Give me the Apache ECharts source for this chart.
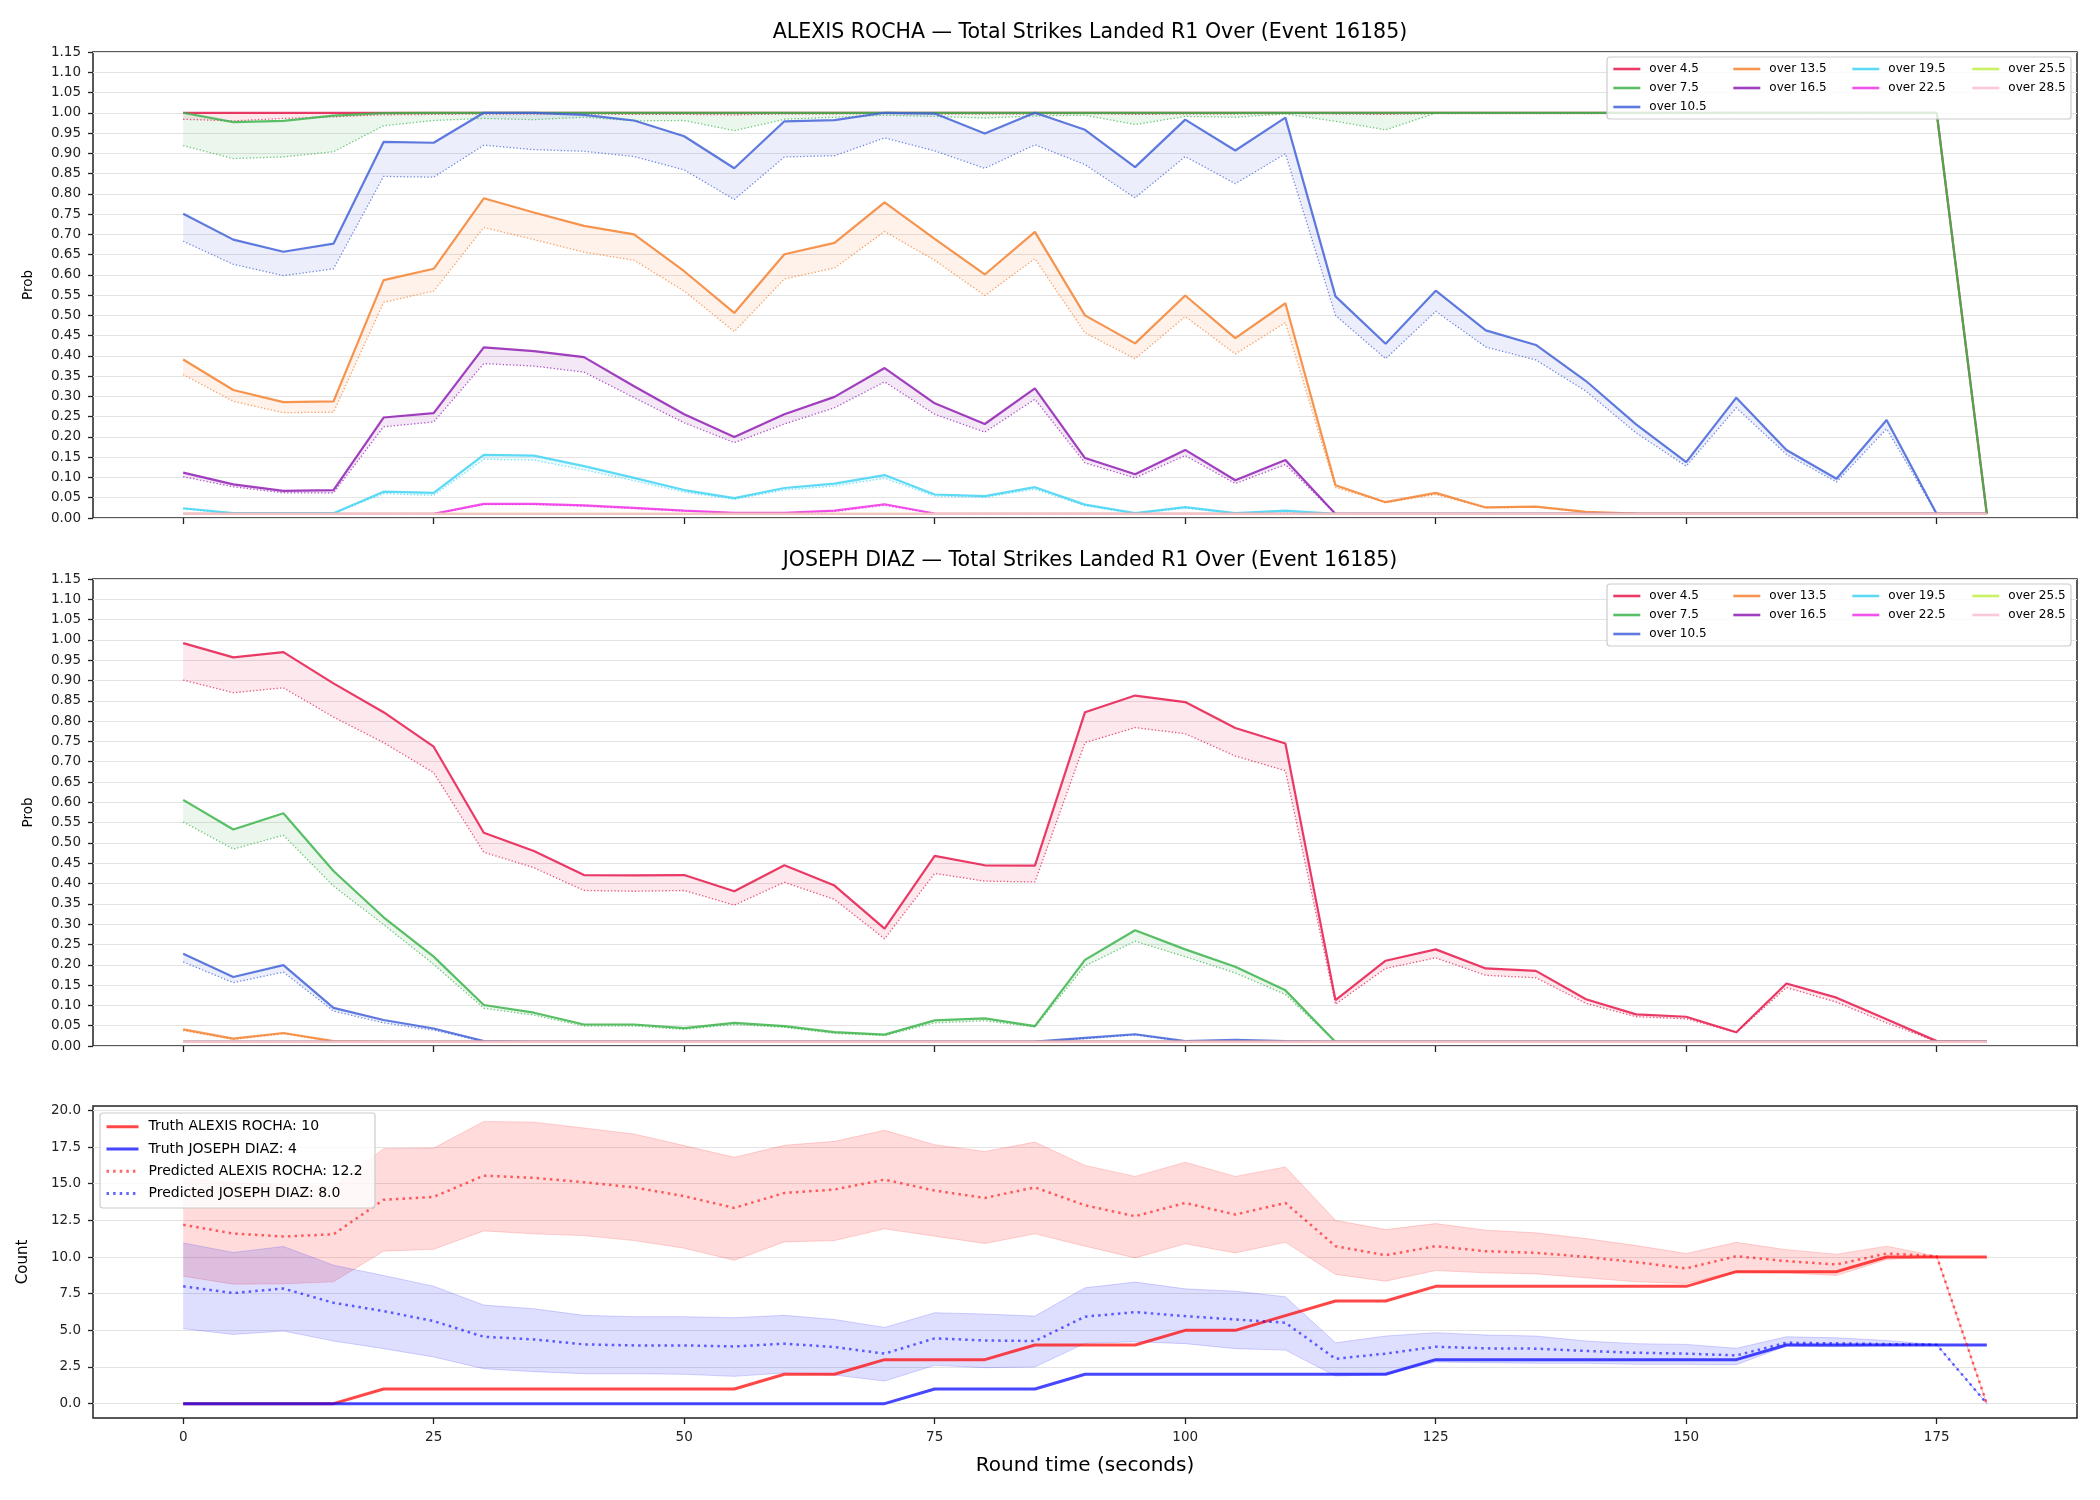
<!DOCTYPE html>
<html>
<head>
<meta charset="utf-8">
<script src="https://cdn.jsdelivr.net/npm/echarts@6/dist/echarts.min.js"></script>
<style>html,body{margin:0;padding:0;background:#fff}#main{width:2100px;height:1500px}</style>
</head>
<body>
<div id="main"></div>
<script>
// round time, seconds
var times = [0,5,10,15,20,25,30,35,40,45,50,55,60,65,70,75,80,85,90,95,100,105,110,115,120,125,130,135,140,145,150,155,160,165,170,175,180];
var xTicks = [0,25,50,75,100,125,150,175];
var countTicks = [0,2.5,5,7.5,10,12.5,15,17.5,20];
var thresholds = ['over 4.5','over 7.5','over 10.5','over 13.5','over 16.5','over 19.5','over 22.5','over 25.5','over 28.5'];
var palette = ['#e6194b','#3cb44b','#4363d8','#f58231','#911eb4','#42d4f4','#f032e6','#bfef45','#fabed4'];

var flat = [0.01,0.01,0.01,0.01,0.01,0.01,0.01,0.01,0.01,0.01,
  0.01,0.01,0.01,0.01,0.01,0.01,0.01,0.01,0.01,0.01,
  0.01,0.01,0.01,0.01,0.01,0.01,0.01,0.01,0.01,0.01,
  0.01,0.01,0.01,0.01,0.01,0.01,0.01];

// ALEXIS ROCHA: solid line (s) and dotted line (d) per threshold
var rocha45s = [1,1,1,1,1,1,1,1,1,1, 1,1,1,1,1,1,1,1,1,1, 1,1,1,1,1,1,1,1,1,1, 1,1,1,1,1,1,0.01];
var rocha45d = [0.984,0.980,0.986,0.990,0.995,0.996,0.997,0.997,0.997,0.996,
  0.996,0.995,0.997,0.997,0.998,0.997,0.997,0.997,0.998,0.996,
  0.997,0.997,0.998,0.997,0.996,0.998,0.998,0.998,0.998,0.998,
  0.998,0.998,0.998,0.998,0.998,0.998,0.01];
var rocha75s = [1,0.977,0.980,0.993,0.999,1,1,1,1,1, 1,1,1,1,1,1,1,1,1,1, 1,1,1,1,1,1,1,1,1,1, 1,1,1,1,1,1,0.01];
var rocha75d = [0.919,0.887,0.891,0.904,0.968,0.981,0.986,0.983,0.989,0.980,
  0.981,0.956,0.984,0.989,0.994,0.991,0.987,0.992,0.994,0.971,
  0.991,0.989,0.997,0.979,0.958,0.999,1,1,1,1,
  1,1,1,1,1,1,0.01];
var rocha105s = [0.751,0.687,0.657,0.677,0.928,0.926,1.0,1.0,0.995,0.981,
  0.942,0.863,0.979,0.982,1.0,0.998,0.949,1.0,0.958,0.866,
  0.983,0.907,0.988,0.547,0.430,0.561,0.463,0.427,0.338,0.231,
  0.138,0.297,0.168,0.097,0.242,0.01,0.01];
var rocha105d = [0.683,0.626,0.598,0.615,0.843,0.841,0.920,0.909,0.905,0.892,
  0.859,0.786,0.891,0.894,0.938,0.906,0.863,0.921,0.872,0.790,
  0.892,0.825,0.899,0.500,0.393,0.510,0.422,0.390,0.313,0.210,
  0.128,0.272,0.157,0.089,0.220,0.01,0.01];
var rocha135s = [0.391,0.316,0.286,0.288,0.587,0.615,0.789,0.754,0.721,0.700,
  0.609,0.506,0.651,0.679,0.779,0.689,0.601,0.706,0.500,0.431,
  0.549,0.444,0.530,0.081,0.039,0.062,0.026,0.028,0.015,0.011,
  0.01,0.01,0.01,0.01,0.01,0.01,0.01];
var rocha135d = [0.354,0.288,0.260,0.261,0.532,0.560,0.717,0.687,0.656,0.636,
  0.560,0.460,0.590,0.617,0.707,0.636,0.549,0.640,0.457,0.393,
  0.497,0.405,0.482,0.075,0.038,0.058,0.025,0.027,0.014,0.011,
  0.01,0.01,0.01,0.01,0.01,0.01,0.01];
var rocha165s = [0.112,0.083,0.067,0.069,0.248,0.259,0.421,0.412,0.397,0.325,
  0.256,0.200,0.256,0.299,0.370,0.283,0.232,0.320,0.148,0.108,
  0.168,0.093,0.143,0.01,0.01,0.01,0.01,0.01,0.01,0.01,
  0.01,0.01,0.01,0.01,0.01,0.01,0.01];
var rocha165d = [0.102,0.077,0.062,0.062,0.225,0.237,0.381,0.375,0.360,0.297,
  0.235,0.186,0.232,0.272,0.336,0.256,0.212,0.293,0.136,0.099,
  0.154,0.085,0.132,0.01,0.01,0.01,0.01,0.01,0.01,0.01,
  0.01,0.01,0.01,0.01,0.01,0.01,0.01];
var rocha195s = [0.024,0.012,0.012,0.012,0.065,0.062,0.156,0.154,0.128,0.099,
  0.069,0.049,0.074,0.085,0.106,0.058,0.054,0.076,0.033,0.012,
  0.027,0.012,0.018,0.01,0.01,0.01,0.01,0.01,0.01,0.01,
  0.01,0.01,0.01,0.01,0.01,0.01,0.01];
var rocha195d = [0.022,0.011,0.011,0.011,0.060,0.056,0.145,0.143,0.119,0.092,
  0.064,0.046,0.069,0.079,0.098,0.054,0.051,0.071,0.030,0.011,
  0.024,0.011,0.015,0.01,0.01,0.01,0.01,0.01,0.01,0.01,
  0.01,0.01,0.01,0.01,0.01,0.01,0.01];
var rocha225s = [0.01,0.01,0.01,0.01,0.01,0.01,0.035,0.035,0.031,0.025,
  0.018,0.013,0.013,0.018,0.034,0.011,0.01,0.01,0.01,0.01,
  0.01,0.01,0.01,0.01,0.01,0.01,0.01,0.01,0.01,0.01,
  0.01,0.01,0.01,0.01,0.01,0.01,0.01];
var rocha225d = [0.01,0.01,0.01,0.01,0.01,0.01,0.033,0.033,0.029,0.023,
  0.017,0.012,0.012,0.016,0.031,0.010,0.01,0.01,0.01,0.01,
  0.01,0.01,0.01,0.01,0.01,0.01,0.01,0.01,0.01,0.01,
  0.01,0.01,0.01,0.01,0.01,0.01,0.01];

// JOSEPH DIAZ
var diaz45s = [0.992,0.957,0.970,0.893,0.822,0.737,0.525,0.480,0.421,0.420,
  0.421,0.381,0.445,0.395,0.289,0.468,0.445,0.444,0.822,0.863,
  0.847,0.783,0.745,0.113,0.210,0.238,0.191,0.185,0.115,0.078,
  0.072,0.034,0.154,0.119,0.066,0.012,0.01];
var diaz45d = [0.901,0.870,0.882,0.810,0.747,0.673,0.477,0.439,0.383,0.381,
  0.383,0.347,0.403,0.361,0.264,0.425,0.406,0.404,0.747,0.784,
  0.769,0.714,0.678,0.103,0.191,0.217,0.174,0.168,0.105,0.072,
  0.067,0.033,0.144,0.108,0.057,0.011,0.01];
var diaz75s = [0.606,0.533,0.573,0.431,0.317,0.220,0.101,0.082,0.053,0.053,
  0.044,0.057,0.049,0.034,0.028,0.063,0.068,0.049,0.212,0.285,
  0.238,0.195,0.137,0.01,0.01,0.01,0.01,0.01,0.01,0.01,
  0.01,0.01,0.01,0.01,0.01,0.01,0.01];
var diaz75d = [0.552,0.485,0.519,0.394,0.299,0.201,0.093,0.076,0.049,0.049,
  0.041,0.053,0.046,0.031,0.026,0.057,0.062,0.047,0.197,0.258,
  0.220,0.180,0.127,0.01,0.01,0.01,0.01,0.01,0.01,0.01,
  0.01,0.01,0.01,0.01,0.01,0.01,0.01];
var diaz105s = [0.227,0.170,0.199,0.094,0.064,0.043,0.012,0.01,0.01,0.01,
  0.01,0.01,0.01,0.01,0.01,0.01,0.01,0.011,0.020,0.029,
  0.012,0.015,0.012,0.01,0.01,0.01,0.01,0.01,0.01,0.01,
  0.01,0.01,0.01,0.01,0.01,0.01,0.01];
var diaz105d = [0.207,0.156,0.182,0.086,0.057,0.039,0.011,0.01,0.01,0.01,
  0.01,0.01,0.01,0.01,0.01,0.01,0.01,0.010,0.018,0.027,
  0.011,0.013,0.011,0.01,0.01,0.01,0.01,0.01,0.01,0.01,
  0.01,0.01,0.01,0.01,0.01,0.01,0.01];
var diaz135s = [0.041,0.018,0.032,0.012,0.01,0.01,0.01,0.01,0.01,0.01,
  0.01,0.01,0.01,0.01,0.01,0.01,0.01,0.01,0.01,0.01,
  0.01,0.01,0.01,0.01,0.01,0.01,0.01,0.01,0.01,0.01,
  0.01,0.01,0.01,0.01,0.01,0.01,0.01];
var diaz135d = [0.038,0.016,0.030,0.011,0.01,0.01,0.01,0.01,0.01,0.01,
  0.01,0.01,0.01,0.01,0.01,0.01,0.01,0.01,0.01,0.01,
  0.01,0.01,0.01,0.01,0.01,0.01,0.01,0.01,0.01,0.01,
  0.01,0.01,0.01,0.01,0.01,0.01,0.01];

// strike counts
var truthRocha = [0,0,0,0,1,1,1,1,1,1,1,1,2,2,3,3,3,4,4,4,5,5,6,7,7,8,8,8,8,8,8,9,9,9,10,10,10];
var truthDiaz = [0,0,0,0,0,0,0,0,0,0,0,0,0,0,0,1,1,1,2,2,2,2,2,2,2,3,3,3,3,3,3,3,4,4,4,4,4];
var predRocha = [12.2,11.6,11.4,11.55,13.9,14.1,15.55,15.4,15.1,14.75,
  14.15,13.35,14.37,14.6,15.28,14.53,14.03,14.75,13.53,12.78,
  13.69,12.9,13.69,10.74,10.12,10.74,10.4,10.28,10.01,9.65,
  9.22,10.06,9.72,9.49,10.24,10.06,0];
var predRochaHi = [15.4,15.05,14.95,14.8,17.39,17.43,19.25,19.2,18.8,18.39,
  17.6,16.8,17.62,17.89,18.64,17.66,17.2,17.84,16.25,15.5,
  16.46,15.5,16.14,12.5,11.87,12.28,11.83,11.65,11.26,10.78,
  10.24,11.0,10.5,10.19,10.74,10.06,0];
var predRochaLo = [8.69,8.15,8.17,8.31,10.4,10.53,11.78,11.58,11.46,11.12,
  10.6,9.78,11.03,11.12,11.92,11.42,10.92,11.58,10.74,9.94,
  10.9,10.28,11.0,8.81,8.35,9.08,8.92,8.85,8.58,8.31,
  8.2,8.99,8.92,8.74,9.83,10.0,0];
var predDiaz = [8.0,7.54,7.85,6.88,6.31,5.63,4.56,4.38,4.04,3.97,
  3.97,3.9,4.09,3.86,3.41,4.45,4.31,4.27,5.93,6.24,
  5.97,5.74,5.52,3.06,3.41,3.88,3.77,3.75,3.59,3.47,
  3.41,3.29,4.15,4.11,4.06,4.02,0];
var predDiazHi = [10.96,10.31,10.72,9.44,8.74,8.01,6.72,6.47,6.02,5.93,
  5.93,5.86,6.02,5.74,5.2,6.2,6.11,5.97,7.9,8.29,
  7.83,7.67,7.29,4.15,4.61,4.84,4.68,4.61,4.27,4.09,
  4.04,3.77,4.56,4.49,4.31,4.02,0];
var predDiazLo = [5.11,4.72,4.95,4.27,3.75,3.18,2.38,2.18,2.04,2.04,
  2.0,1.86,2.09,1.95,1.54,2.61,2.45,2.5,4.11,4.22,
  4.09,3.75,3.65,1.88,2.0,2.84,2.79,2.75,2.75,2.68,
  2.68,2.66,3.93,3.88,3.97,4.02,0];

var rochaSolid = [rocha45s, rocha75s, rocha105s, rocha135s, rocha165s, rocha195s, rocha225s, flat, flat];
var rochaDotted = [rocha45d, rocha75d, rocha105d, rocha135d, rocha165d, rocha195d, rocha225d, flat, flat];
var diazSolid = [diaz45s, diaz75s, diaz105s, diaz135s, flat, flat, flat, flat, flat];
var diazDotted = [diaz45d, diaz75d, diaz105d, diaz135d, flat, flat, flat, flat, flat];

var FONT = 'DejaVu Sans';

function pairs(vals) {
  return times.map(function (t, k) { return [t, vals[k]]; });
}
function rgba(hex, a) {
  var n = parseInt(hex.slice(1), 16);
  return 'rgba(' + (n >> 16 & 255) + ',' + (n >> 8 & 255) + ',' + (n & 255) + ',' + a + ')';
}

// shaded band between two curves, drawn once from all points through the axis scales
function band(g, lo, hi, color, fillAlpha, edgeAlpha) {
  return {
    type: 'custom', xAxisIndex: g, yAxisIndex: g, silent: true, clip: true,
    data: times.map(function (t, k) { return [t, lo[k], hi[k]]; }),
    encode: { x: 0, y: [1, 2] },
    renderItem: function (params, api) {
      if (params.dataIndexInside !== 0) return null;
      var n = params.dataInsideLength, upper = [], lower = [];
      for (var k = 0; k < n; k++) {
        upper.push(api.coord([api.value(0, k), api.value(2, k)]));
        lower.push(api.coord([api.value(0, k), api.value(1, k)]));
      }
      var kids = [{ type: 'polygon', shape: { points: upper.concat(lower.slice().reverse()) },
        style: { fill: rgba(color, fillAlpha), stroke: null } }];
      if (edgeAlpha) {
        kids.push({ type: 'polyline', shape: { points: upper }, style: { fill: null, stroke: rgba(color, edgeAlpha), lineWidth: 1 } });
        kids.push({ type: 'polyline', shape: { points: lower }, style: { fill: null, stroke: rgba(color, edgeAlpha), lineWidth: 1 } });
      }
      return { type: 'group', children: kids };
    }
  };
}

function probSeries(g, solids, dotteds) {
  var out = [];
  thresholds.forEach(function (name, i) {
    var c = palette[i];
    out.push(band(g, dotteds[i], solids[i], c, 0.1, 0));
    out.push({
      name: name, type: 'line', xAxisIndex: g, yAxisIndex: g, symbol: 'none', silent: true,
      data: pairs(solids[i]), color: c,
      lineStyle: { color: c, width: 2.2, opacity: 0.85 }
    });
    out.push({
      name: name + ' ref', type: 'line', xAxisIndex: g, yAxisIndex: g, symbol: 'none', silent: true,
      data: pairs(dotteds[i]), color: c,
      lineStyle: { color: c, width: 1.3, type: [1.3, 2.1], opacity: 0.75 }
    });
  });
  return out;
}

function xAxisFor(g, labels) {
  return {
    gridIndex: g, type: 'value', min: -9, max: 189,
    axisLine: { show: false, onZero: false },
    splitLine: { show: false },
    axisTick: { show: true, customValues: xTicks, length: 6, lineStyle: { color: '#222', width: 1.3 } },
    axisLabel: { show: labels, customValues: xTicks, fontSize: 13.5, color: '#222', margin: 12, fontFamily: FONT },
    name: labels ? 'Round time (seconds)' : '', nameLocation: 'middle', nameGap: 38,
    nameTextStyle: { fontSize: 20, color: '#000', fontFamily: FONT }
  };
}
function probYAxis(g) {
  return {
    gridIndex: g, type: 'value', min: 0, max: 1.15, interval: 0.05,
    axisLine: { show: false, onZero: false },
    axisTick: { show: true, length: 5, lineStyle: { color: '#222', width: 1.3 } },
    axisLabel: { fontSize: 13.5, color: '#222', margin: 12, fontFamily: FONT,
      formatter: function (v) { return v.toFixed(2); } },
    splitLine: { show: true, lineStyle: { color: '#e3e3e3', width: 1 } },
    name: 'Prob', nameLocation: 'middle', nameGap: 58,
    nameTextStyle: { fontSize: 13.5, color: '#000', fontFamily: FONT }
  };
}

function probLegends(top) {
  var cols = [[0, 1, 2], [3, 4], [5, 6], [7, 8]];
  var lefts = [1612, 1732, 1851, 1971];
  return cols.map(function (idx, c) {
    return {
      data: idx.map(function (i) { return thresholds[i]; }),
      orient: 'vertical', left: lefts[c], top: top, padding: 0, itemGap: 0,
      itemWidth: 27, itemHeight: 10, selectedMode: false, z: 20,
      itemStyle: { opacity: 0 },
      lineStyle: { width: 2.6 },
      textStyle: { fontSize: 12, lineHeight: 19, color: '#000', padding: [0, 0, 0, 4], fontFamily: FONT }
    };
  });
}

var gridBox = { show: true, borderColor: '#222', borderWidth: 1.5, backgroundColor: 'rgba(0,0,0,0)' };

var chart = echarts.init(document.getElementById('main'));
var option = {
  animation: false,
  backgroundColor: '#fff',
  textStyle: { fontFamily: FONT },
  title: [
    { text: 'ALEXIS ROCHA — Total Strikes Landed R1 Over (Event 16185)', left: 1085, top: 17, textAlign: 'center',
      textStyle: { fontSize: 20.5, fontWeight: 'normal', color: '#000', fontFamily: FONT } },
    { text: 'JOSEPH DIAZ — Total Strikes Landed R1 Over (Event 16185)', left: 1085, top: 545, textAlign: 'center',
      textStyle: { fontSize: 20.5, fontWeight: 'normal', color: '#000', fontFamily: FONT } }
  ],
  grid: [
    Object.assign({ left: 93, top: 52, width: 1984, height: 466 }, gridBox),
    Object.assign({ left: 93, top: 579, width: 1984, height: 467 }, gridBox),
    Object.assign({ left: 93, top: 1106, width: 1984, height: 312 }, gridBox)
  ],
  xAxis: [xAxisFor(0, false), xAxisFor(1, false), xAxisFor(2, true)],
  yAxis: [probYAxis(0), probYAxis(1), {
    gridIndex: 2, type: 'value', min: -0.98, max: 20.3,
    axisLine: { show: false, onZero: false },
    axisTick: { show: true, customValues: countTicks, length: 5, lineStyle: { color: '#222', width: 1.3 } },
    axisLabel: { customValues: countTicks, fontSize: 13.5, color: '#222', margin: 12, fontFamily: FONT,
      formatter: function (v) { return v.toFixed(1); } },
    splitLine: { show: true, lineStyle: { color: '#e3e3e3', width: 1 } },
    name: 'Count', nameLocation: 'middle', nameGap: 62,
    nameTextStyle: { fontSize: 15, color: '#000', fontFamily: FONT }
  }],
  legend: probLegends(59.5).concat(probLegends(586.5)).concat([{
    data: ['Truth ALEXIS ROCHA: 10', 'Truth JOSEPH DIAZ: 4', 'Predicted ALEXIS ROCHA: 12.2', 'Predicted JOSEPH DIAZ: 8.0'],
    orient: 'vertical', left: 105, top: 1115.5, padding: 0, itemGap: 0,
    itemWidth: 32, itemHeight: 10, selectedMode: false, z: 20,
    itemStyle: { opacity: 0 },
    lineStyle: { width: 3 },
    textStyle: { fontSize: 14, lineHeight: 22.3, color: '#000', padding: [0, 0, 0, 5], fontFamily: FONT }
  }]),
  graphic: {
    elements: [
      { type: 'rect', z: 10, shape: { x: 1607, y: 57, width: 464, height: 62, r: 3 },
        style: { fill: 'rgba(255,255,255,0.8)', stroke: '#cccccc', lineWidth: 1.2 } },
      { type: 'rect', z: 10, shape: { x: 1607, y: 584, width: 464, height: 62, r: 3 },
        style: { fill: 'rgba(255,255,255,0.8)', stroke: '#cccccc', lineWidth: 1.2 } },
      { type: 'rect', z: 10, shape: { x: 100, y: 1113, width: 275, height: 95, r: 3 },
        style: { fill: 'rgba(255,255,255,0.8)', stroke: '#cccccc', lineWidth: 1.2 } }
    ]
  },
  series: probSeries(0, rochaSolid, rochaDotted)
    .concat(probSeries(1, diazSolid, diazDotted))
    .concat([
      band(2, predRochaLo, predRochaHi, '#ff0000', 0.14, 0.16),
      band(2, predDiazLo, predDiazHi, '#0000ff', 0.13, 0.16),
      { name: 'Truth ALEXIS ROCHA: 10', type: 'line', xAxisIndex: 2, yAxisIndex: 2, symbol: 'none', silent: true,
        data: pairs(truthRocha), color: '#ff0000', lineStyle: { color: '#ff0000', width: 3, opacity: 0.72 } },
      { name: 'Truth JOSEPH DIAZ: 4', type: 'line', xAxisIndex: 2, yAxisIndex: 2, symbol: 'none', silent: true,
        data: pairs(truthDiaz), color: '#0000ff', lineStyle: { color: '#0000ff', width: 3, opacity: 0.72 } },
      { name: 'Predicted ALEXIS ROCHA: 12.2', type: 'line', xAxisIndex: 2, yAxisIndex: 2, symbol: 'none', silent: true,
        data: pairs(predRocha), color: '#ff0000',
        lineStyle: { color: '#ff0000', width: 2.5, opacity: 0.6, type: [2.5, 4.1] } },
      { name: 'Predicted JOSEPH DIAZ: 8.0', type: 'line', xAxisIndex: 2, yAxisIndex: 2, symbol: 'none', silent: true,
        data: pairs(predDiaz), color: '#0000ff',
        lineStyle: { color: '#0000ff', width: 2.5, opacity: 0.6, type: [2.5, 4.1] } }
    ])
};
chart.setOption(option);
window.addEventListener('resize', function () { chart.resize(); });
</script>
</body>
</html>
